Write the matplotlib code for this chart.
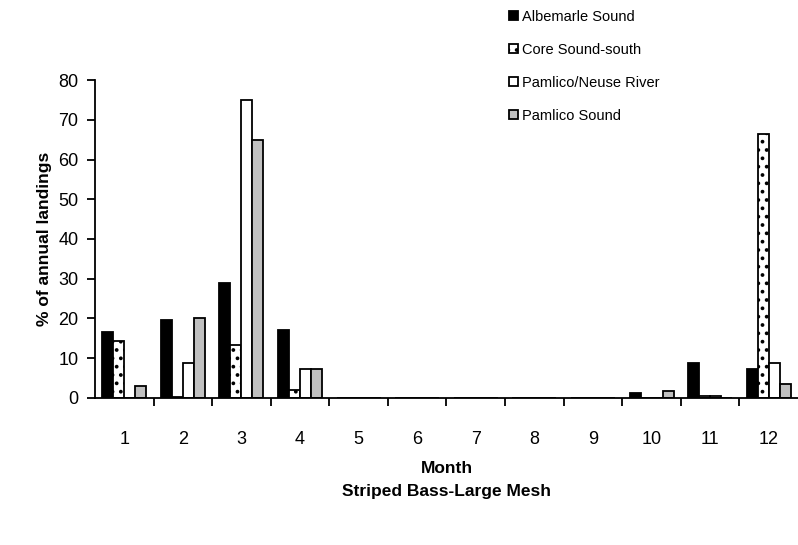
import matplotlib.pyplot as plt
import numpy as np

plt.rcParams['font.family'] = ['Liberation Sans', 'DejaVu Sans']
plt.rcParams['hatch.linewidth'] = 1.5

months = [1, 2, 3, 4, 5, 6, 7, 8, 9, 10, 11, 12]
albemarle = [16.5, 19.7, 29.0, 17.0, 0, 0, 0, 0, 0, 1.2, 8.7, 7.3]
core_south = [14.2, 0.3, 13.2, 2.0, 0, 0, 0, 0, 0, 0, 0.4, 66.5]
pamlico_neuse = [0, 8.7, 75.0, 7.3, 0, 0, 0, 0, 0, 0, 0.4, 8.7]
pamlico_sound = [3.0, 20.0, 65.0, 7.3, 0, 0, 0, 0, 0, 1.8, 0, 3.5]

fig = plt.figure(figsize=(7.98, 5.45), dpi=100)
ax = fig.add_axes([0.119, 0.270, 0.881, 0.583])

x = np.array(months)
w = 0.1875
series = [
    (albemarle, 'Albemarle Sound', dict(facecolor='black')),
    (core_south, 'Core Sound-south', dict(facecolor='white', hatch='..')),
    (pamlico_neuse, 'Pamlico/Neuse River', dict(facecolor='white')),
    (pamlico_sound, 'Pamlico Sound', dict(facecolor='#c0c0c0')),
]
for i, (vals, lab, style) in enumerate(series):
    ax.bar(x + (i - 1.5) * w, vals, w, edgecolor='black', linewidth=1.3,
           label=lab, **style)

ax.set_xlim(0.5, 12.5)
ax.set_ylim(0, 80)
ax.set_yticks(range(0, 81, 10))
ax.set_xticks(x)
ax.set_xticks(np.arange(1.5, 12.5, 1), minor=True)
ax.tick_params(axis='x', which='major', length=0, pad=24, labelsize=13)
ax.tick_params(axis='x', which='minor', length=6, width=1.3, direction='out')
ax.tick_params(axis='y', length=6, width=1.3, direction='out', labelsize=13,
               pad=6)
for s in ['top', 'right']:
    ax.spines[s].set_visible(False)
for s in ['left', 'bottom']:
    ax.spines[s].set_linewidth(1.3)

ax.set_ylabel('% of annual landings', fontweight='bold', fontsize=12.5,
              labelpad=4)
ax.set_xlabel('Month\nStriped Bass-Large Mesh', fontweight='bold', fontsize=12.5,
              linespacing=1.7, labelpad=9)

fig.legend(loc='upper left', bbox_to_anchor=(0.63, 0.993), frameon=False,
           fontsize=10.5, labelspacing=1.3, handlelength=0.65,
           handleheight=0.65, handletextpad=0.25, borderaxespad=0)

fig.savefig('out.png', dpi=100)
